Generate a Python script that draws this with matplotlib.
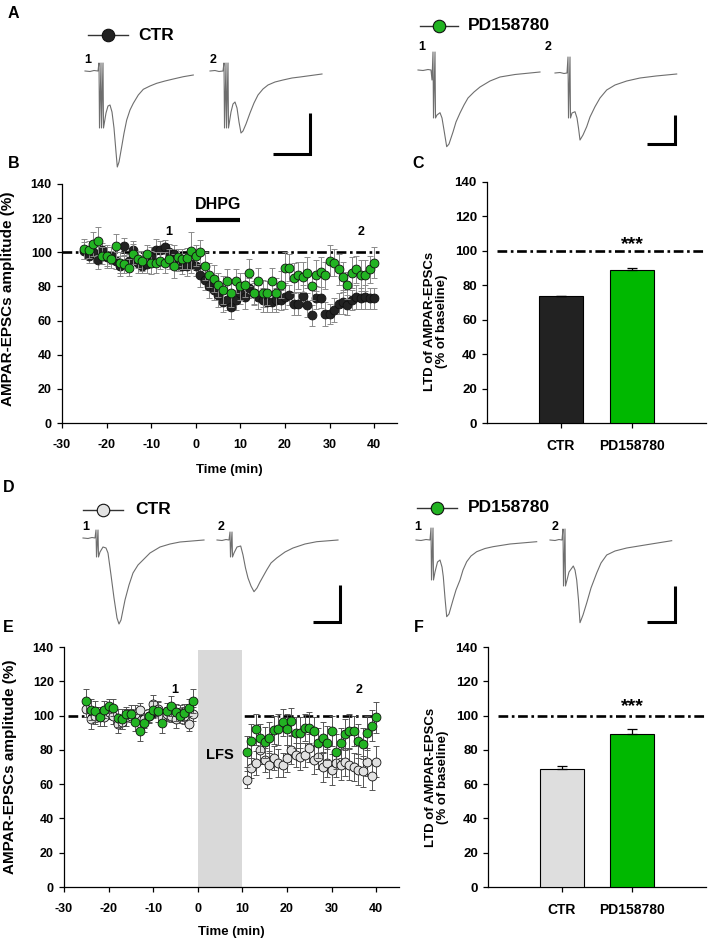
import matplotlib
matplotlib.use("Agg")
import matplotlib.pyplot as plt
import numpy as np

plt.rcParams['font.family'] = ['Liberation Sans', 'DejaVu Sans']
plt.rcParams['font.weight'] = 'bold'
plt.rcParams['axes.unicode_minus'] = False
plt.rcParams['lines.scale_dashes'] = False

# ---------------- data ----------------
time_dhpg = list(range(-25, 41))
ctr_dhpg = [101, 98, 100, 95.5, 101.5, 97, 98, 95, 92, 103.5,
            95, 101.5, 94, 92, 93, 98, 101.5, 101.5, 103, 100,
            99, 95, 92, 92, 93,
            92, 86.5, 84, 80, 78, 75, 71, 72, 68, 72,
            76, 74, 79, 76, 74, 72, 71, 71, 72, 72,
            74, 75, 70, 70, 74.6, 69, 63, 73.5, 73.5, 64,
            63.7, 66, 70, 71, 69, 72, 74, 73, 74, 73, 73]
ctr_dhpg_err = [5, 4, 6, 5, 4, 6, 5, 5, 6, 5,
                4, 5, 6, 4, 5, 5, 6, 5, 4, 5,
                5, 6, 5, 6, 5, 6, 7, 6, 7, 6,
                7, 6, 6, 7, 6, 6, 7, 6, 6, 7,
                7, 6, 6, 7, 6, 7, 6, 7, 7, 6,
                7, 6, 7, 6, 7, 6, 7, 6, 7, 6,
                6, 7, 6, 7, 6, 6]
pd_dhpg = [102, 101.5, 104.6, 106.6, 98, 98, 96, 103.5, 94, 93,
           91, 99, 96, 95, 99, 94, 94, 95, 94, 96,
           92, 97, 96, 96.5, 101,
           98, 100, 92, 86.5, 84.6, 80.7, 78, 83, 76, 83,
           80, 81, 88, 76, 83, 76, 76, 83, 76, 81,
           91, 91, 85, 86.5, 85.5, 88, 80, 86.5, 88.5, 86.5,
           95, 94, 90, 85.5, 80.7, 88, 90, 86.5, 86.5, 90, 94]
pd_dhpg_err = [6, 5, 7, 8, 5, 6, 5, 7, 6, 5,
               5, 6, 5, 6, 5, 7, 6, 5, 6, 6,
               7, 5, 6, 6, 11, 6, 7, 8, 7, 8,
               7, 8, 7, 8, 7, 8, 7, 8, 7, 8,
               8, 7, 8, 9, 8, 9, 8, 9, 8, 9,
               9, 8, 9, 9, 8, 9, 8, 9, 9, 8,
               9, 8, 9, 9, 8, 9]

time_lfs = list(range(-25, 0)) + list(range(11, 41))
ctr_lfs = [104, 98, 100, 101, 99, 102, 100, 95, 96, 99,
           100, 101, 103.5, 98, 100, 107, 104, 99, 101, 100,
           98, 102, 100, 95, 101,
           62.6, 69.4, 72.3, 80, 74, 71.3, 75, 72.3, 71.3, 75,
           80, 77, 76, 77, 81, 74, 76, 70, 72.3, 68.4,
           72.3, 71.3, 73, 71.3, 70, 68.4, 67.4, 73, 64.6, 73]
ctr_lfs_err = [5, 6, 5, 4, 5, 4, 5, 5, 4, 5,
               4, 5, 4, 5, 4, 5, 4, 5, 4, 4,
               5, 4, 5, 4, 4,
               5, 6, 7, 8, 7, 8, 7, 8, 7, 8,
               8, 7, 8, 7, 8, 8, 7, 9, 8, 9,
               8, 9, 8, 9, 8, 9, 9, 8, 8, 9]
pd_lfs = [108.4, 103.5, 102.5, 99, 103.5, 105.5, 104.5, 98.6, 98, 101,
          101, 96, 91, 95.7, 99.6, 103.5, 102.5, 95.7, 102.5, 105.5,
          102, 99.6, 101.6, 104.5, 108.4,
          79, 85, 92, 87, 84.5, 87, 91.5, 92, 96, 92,
          96.7, 90, 90, 93, 93, 91, 84, 87, 84, 91,
          79, 84, 89, 91, 91, 85, 83.5, 90, 94, 99]
pd_lfs_err = [7, 6, 6, 5, 5, 4, 5, 5, 6, 4,
              5, 5, 6, 5, 4, 5, 6, 6, 5, 6,
              5, 4, 5, 5, 7,
              9, 10, 9, 8, 9, 9, 8, 9, 8, 9,
              8, 9, 9, 8, 9, 8, 9, 9, 10, 9,
              10, 9, 9, 10, 9, 10, 9, 10, 9, 9]

groups = ['CTR', 'PD158780']
ltd_dhpg = [73.5, 89.0]
ltd_dhpg_err = [0.4, 1.3]
ltd_lfs = [69.0, 89.5]
ltd_lfs_err = [1.5, 2.8]

y_ticks = [0, 20, 40, 60, 80, 100, 120, 140]
x_ticks = [-30, -20, -10, 0, 10, 20, 30, 40]

# example EPSC traces (local samples: time offset, downward current deflection)
a_ctr1_t = [-14, -9, -5, -1, 0, 0.5, 2, 2.5, 4, 4.5, 7, 9, 11, 13, 15, 17, 18.3, 20, 22.7,
            25, 27.7, 31, 34.3, 39.3, 44.3, 51, 57.7, 66, 74.3, 84.3, 94.3]
a_ctr1_i = [0, 0.5, -0.5, 0, -8, 57, -8, 57, -8, 57, 42, 35, 34, 41, 57, 81, 96, 91, 75.7,
            62.3, 49, 39, 32.3, 24, 18.3, 15, 12.3, 10, 8, 5.7, 4]
a_ctr2_t = [-14, -9, -5, -1, 0, 0.5, 2, 2.5, 4, 4.5, 7, 9, 11, 13, 15, 17, 19, 22, 26,
            30, 34, 39, 44, 51, 59, 68, 76, 87, 98]
a_ctr2_i = [0, -0.5, 0.5, 0, -8, 57, -8, 57, -8, 57, 41, 33, 31, 37, 51, 62, 60, 53, 42,
            32, 24, 18, 14, 11, 9, 7, 6, 4.5, 3]
a_pd1_t = [-15, -10, -5, -2, -1, 0, 0.5, 2, 2.5, 4, 7, 9, 11, 13.7, 16, 20, 23, 27, 31,
           35, 41, 47, 57, 67, 82, 107]
a_pd1_i = [0, 0.5, -0.5, 0, 10, -18, 48, -18, 48, 45, 42.7, 48, 60, 76.7, 74, 62, 52, 43, 35,
           28, 22, 17, 11, 7, 4.5, 2]
a_pd2_t = [-13, -8, -4, -1, 0, 0.5, 2, 2.5, 4, 7, 9, 10.5, 12, 15, 18.7, 22, 27, 32,
           38.7, 47, 58.7, 72, 88, 108.7]
a_pd2_i = [0, -0.5, 0.5, 0, -16, 45, -16, 45, 40, 38.7, 45, 55, 67, 62, 53.7, 44, 33.7, 25,
           17, 12, 8, 5, 3, 1]
d_ctr1_t = [-13, -8, -4, -1, 0, 0.5, 2, 2.5, 4, 7, 10, 12, 15, 18, 21, 23, 25, 29, 33,
            37, 42, 47, 54, 64, 74, 84, 96, 108]
d_ctr1_i = [0, 0.5, -0.5, 0, -8, 19, -8, 19, 14, 9, 10, 15, 37, 60, 80, 86, 82, 62, 47,
            35, 27, 22, 15, 9, 6, 4, 3, 2]
d_ctr2_t = [-13, -8, -4, -1, 0, 0.5, 2, 2.5, 4, 7, 10.7, 13, 15.5, 18, 21, 24, 27, 30,
            36.7, 41, 46.7, 55, 63, 75, 86.7, 108]
d_ctr2_i = [0, 0.5, -0.5, 0, -8, 17, -8, 17, 13, 7, 6, 15, 28, 38, 46, 51.7, 48, 42,
            30, 23, 18, 12, 8, 4, 1.7, 0]
d_pd1_t = [-15, -10, -5, -1, 0, 0.5, 2, 2.5, 4, 6.5, 9, 11, 12.3, 14, 15.7, 18, 22, 25,
           29, 32, 35.7, 40, 45.7, 54, 62, 79, 105.7]
d_pd1_i = [0, 0.5, -0.5, 0, -12, 40, -12, 40, 32, 22, 20, 27, 36.7, 58, 76.7, 74, 60, 50,
           40, 30, 21.7, 16, 11.7, 8.5, 6.7, 4, 1.7]
d_pd2_t = [-13, -8, -4, -1, 0, 0.5, 2, 2.5, 4, 6, 10.3, 12, 13.7, 15.5, 17, 20, 23.7, 28,
           33.7, 38, 43.7, 52, 63.7, 82, 108.7]
d_pd2_i = [0, 0.5, -0.5, 0, -11, 46, -11, 46, 40, 32, 26, 30, 40, 60, 82.7, 75, 63, 48,
           33, 23, 15, 11, 8, 5, 0.7]

# ---------------- style ----------------
W, H = 708, 943
BLACK = '#222222'
GREEN_M = '#22b322'
GREEN_B = '#00b800'
GREY_M = '#e2e2e2'
GREY_B = '#dedede'
TRACE = '#6e6e6e'
DASH = (0, (7.0, 2.6, 1.9, 2.6))

fig = plt.figure(figsize=(W / 100, H / 100), dpi=100)


def px_axes(left, top, right, bottom, **kw):
    return fig.add_axes([left / W, 1 - bottom / H, (right - left) / W, (bottom - top) / H], **kw)


def style_axes(ax, tick_fs):
    for s in ('top', 'right'):
        ax.spines[s].set_visible(False)
    for s in ('left', 'bottom'):
        ax.spines[s].set_linewidth(0.9)
    ax.tick_params(direction='out', length=3.3, width=0.9, labelsize=tick_fs)
    ax.tick_params(axis='y', pad=4)
    ax.tick_params(axis='x', pad=8)
    for lab in ax.get_xticklabels() + ax.get_yticklabels():
        lab.set_fontweight('bold')


def time_course(ax, t, a, a_err, a_face, a_ecol, b, b_err, b_face, b_ecol):
    ax.errorbar(t, a, yerr=a_err, fmt='none', ecolor=a_ecol, elinewidth=0.7,
                capsize=2.0, capthick=0.7, zorder=3)
    ax.plot(t, a, 'o', ls='none', ms=6.4, mfc=a_face, mec='#111111', mew=0.6, zorder=4)
    ax.errorbar(t, b, yerr=b_err, fmt='none', ecolor=b_ecol, elinewidth=0.7,
                capsize=2.0, capthick=0.7, zorder=5)
    ax.plot(t, b, 'o', ls='none', ms=6.4, mfc=b_face, mec='#111111', mew=0.6, zorder=6)
    ax.set_xlim(-30, 45)
    ax.set_ylim(0, 140)
    ax.set_xticks(x_ticks)
    ax.set_yticks(y_ticks)
    style_axes(ax, 9)
    ax.set_ylabel('AMPAR-EPSCs amplitude (%)', fontsize=11, fontweight='bold')
    ax.set_xlabel('Time (min)', fontsize=9.5, fontweight='bold')


def bar_panel(ax, vals, errs, colors, star_y, ylab_y):
    x = np.arange(len(groups))
    ax.bar(x, vals, width=0.62, color=colors, edgecolor='black', linewidth=0.8, zorder=3)
    ax.errorbar(x, vals, yerr=[[0] * len(errs), errs], fmt='none', ecolor='black',
                elinewidth=0.9, capsize=3.5, capthick=0.9, zorder=4)
    ax.axhline(100, xmin=0.045, xmax=1.0, color='black', lw=1.9, ls=DASH, zorder=2)
    ax.text(1, star_y, '***', ha='center', va='center', fontsize=14, fontweight='bold')
    ax.set_xlim(-1.04, 2.04)
    ax.set_ylim(0, 140)
    ax.set_xticks(x)
    ax.set_xticklabels(groups)
    ax.set_yticks(y_ticks)
    style_axes(ax, 9.5)
    for lab in ax.get_xticklabels():
        lab.set_fontsize(10)
    ax.set_ylabel('LTD of AMPAR-EPSCs\n(% of baseline)', fontsize=9.5, fontweight='bold',
                  linespacing=1.0)
    ax.yaxis.set_label_coords(-0.178, ylab_y)


# ---------------- panel B ----------------
axB = px_axes(62, 184, 396.5, 423)
time_course(axB, time_dhpg, ctr_dhpg, ctr_dhpg_err, BLACK, '#8a8a8a',
            pd_dhpg, pd_dhpg_err, GREEN_M, '#8a8a8a')
axB.plot([-30, 41], [100, 100], color='black', lw=1.9, ls=DASH, zorder=2)
axB.plot([0, 10], [119, 119], color='black', lw=3.0, solid_capstyle='butt', zorder=2)
axB.text(5, 127.7, 'DHPG', ha='center', va='center', fontsize=11.5, fontweight='bold')
axB.text(-6, 112, '1', ha='center', va='center', fontsize=9, fontweight='bold')
axB.text(37, 112, '2', ha='center', va='center', fontsize=9, fontweight='bold')
axB.yaxis.set_label_coords(-0.1405, 0.52)
axB.xaxis.set_label_coords(0.5, -0.172)

# ---------------- panel C ----------------
axC = px_axes(487, 182, 706, 423)
bar_panel(axC, ltd_dhpg, ltd_dhpg_err, [BLACK, GREEN_B], 103.6, 0.42)

# ---------------- panel E ----------------
axE = px_axes(64, 647, 398.5, 887)
time_course(axE, time_lfs, ctr_lfs, ctr_lfs_err, GREY_M, '#555555',
            pd_lfs, pd_lfs_err, GREEN_M, '#555555')
axE.plot([-29, 41], [100, 100], color='black', lw=1.9, ls=DASH, zorder=2)
axE.fill_between([0, 10], 0, 138, color='#d9d9d9', lw=0, zorder=2.5)
axE.text(5, 77, 'LFS', ha='center', va='center', fontsize=10.5, fontweight='bold', zorder=3)
axE.text(-5.2, 115, '1', ha='center', va='center', fontsize=9, fontweight='bold')
axE.text(36.2, 115, '2', ha='center', va='center', fontsize=9, fontweight='bold')
axE.yaxis.set_label_coords(-0.142, 0.5)
axE.xaxis.set_label_coords(0.5, -0.163)

# ---------------- panel F ----------------
axF = px_axes(488, 647, 706, 887)
bar_panel(axF, ltd_lfs, ltd_lfs_err, [GREY_B, GREEN_B], 105.2, 0.456)

# ---------------- overlay: letters, legends, traces ----------------
ov = fig.add_axes([0, 0, 1, 1], zorder=-1)
ov.set_xlim(0, W)
ov.set_ylim(H, 0)
ov.axis('off')

for letter, (lx, ly) in zip('ABCDEF', [(13.5, 13), (13.5, 163), (418, 163),
                                     (8.7, 487), (8.7, 627), (419, 627)]):
    ov.text(lx, ly, letter, ha='center', va='center', fontsize=11.5, fontweight='bold')


def legend_item(x0, x1, y, face, label, tx):
    ov.plot([x0, x1], [y, y], color='#333333', lw=1.0)
    ov.plot([(x0 + x1) / 2], [y], 'o', ms=9.0, mfc=face, mec='#111111', mew=0.8)
    ov.text(tx, y, label, ha='left', va='center', fontsize=12.5, fontweight='bold')


legend_item(88, 128, 35, BLACK, 'CTR', 138)
legend_item(420, 458, 26, GREEN_M, 'PD158780', 468)
legend_item(83, 123, 510, GREY_M, 'CTR', 135)
legend_item(417, 457, 508, GREEN_M, 'PD158780', 468)


def draw_trace(t, i, ox, oy):
    ov.plot(ox + np.asarray(t), oy + np.asarray(i), color=TRACE, lw=0.8,
            solid_joinstyle='round')


draw_trace(a_ctr1_t, a_ctr1_i, 99, 71)
draw_trace(a_ctr2_t, a_ctr2_i, 224, 71)
draw_trace(a_pd1_t, a_pd1_i, 433, 70)
draw_trace(a_pd2_t, a_pd2_i, 568, 73)
draw_trace(d_ctr1_t, d_ctr1_i, 96, 538)
draw_trace(d_ctr2_t, d_ctr2_i, 230, 540)
draw_trace(d_pd1_t, d_pd1_i, 431, 540)
draw_trace(d_pd2_t, d_pd2_i, 563, 540)

for (lx, ly, txt) in [(88, 60, '1'), (213, 60, '2'), (422, 47, '1'), (548, 47, '2'),
                      (86, 527, '1'), (221, 527, '2'), (418, 527, '1'), (555, 527, '2')]:
    ov.text(lx, ly, txt, ha='center', va='center', fontsize=9, fontweight='bold')


def scale_bar(xv, ytop, ybot, xl):
    ov.plot([xl, xv, xv], [ybot, ybot, ytop], color='black', lw=2.2,
            solid_joinstyle='miter', solid_capstyle='butt')


scale_bar(310, 113, 154, 273)
scale_bar(675, 115, 144, 647)
scale_bar(340, 585, 622, 313)
scale_bar(675, 586, 622, 647)

fig.savefig('out.png', dpi=100)
